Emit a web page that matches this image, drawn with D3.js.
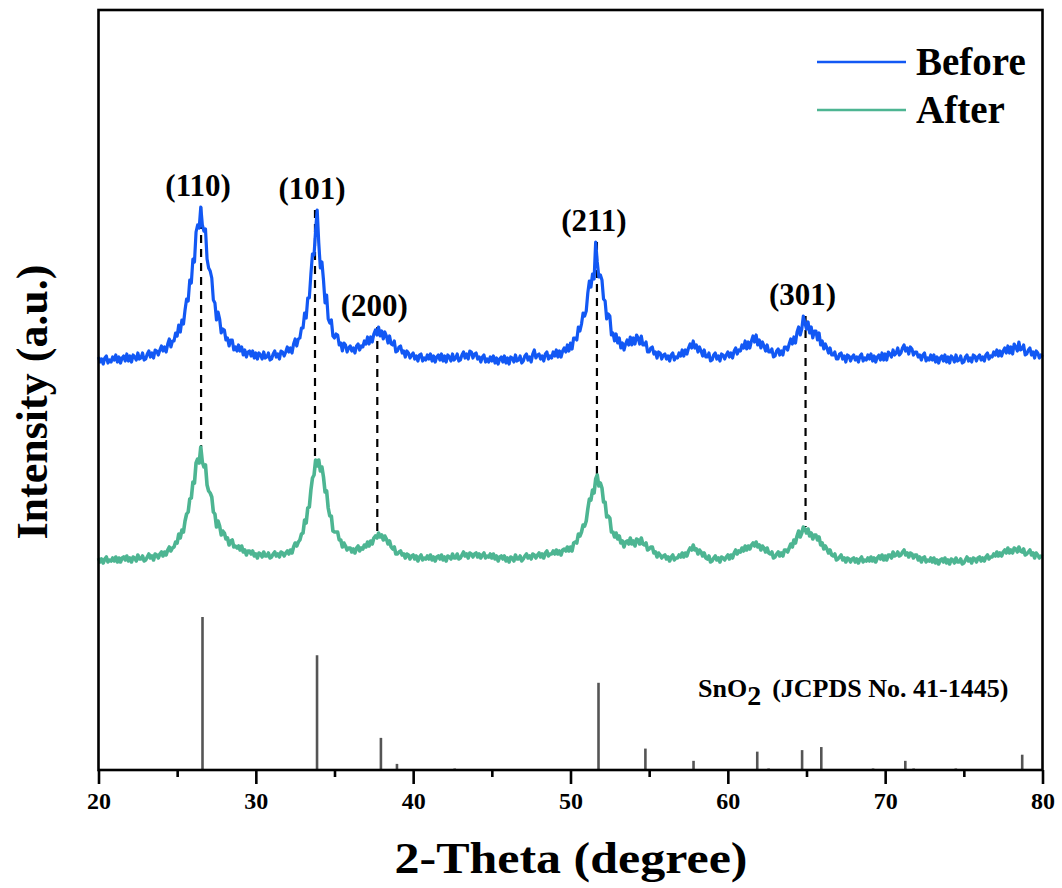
<!DOCTYPE html>
<html>
<head>
<meta charset="utf-8">
<script src="https://cdn.jsdelivr.net/npm/d3@7"></script>
<style>
  body { margin: 0; background: #fff; }
  text { font-family: "Liberation Serif", "Times New Roman", serif; font-weight: bold; fill: #000; }
</style>
</head>
<body>
<svg id="chart" width="1062" height="888"></svg>
<script>
// XRD scan: 2-theta from 20 to 80 degrees, 0.1 degree step (one row per degree)
const thetaStart = 20;
const thetaStep = 0.1;

// Intensity (a.u.) of the sample before cycling
const before = [
  53,48,51,46,52,54,47,50,48,53,
  50,55,48,53,47,52,54,49,56,49,
  54,48,55,53,50,57,51,52,57,50,
  51,56,59,53,57,52,60,59,55,60,
  64,59,63,58,66,71,63,69,69,77,
  74,85,78,90,86,100,111,109,130,127,
  151,148,178,185,182,203,185,179,181,151,
  142,139,132,110,107,90,98,91,77,81,
  80,70,72,64,70,70,60,63,59,65,
  59,63,55,60,53,58,59,54,59,52,
  57,51,57,55,51,58,52,53,57,50,
  51,56,59,53,56,51,59,58,54,58,
  63,58,62,57,66,71,64,71,72,82,
  82,97,92,112,112,136,156,155,180,200,
  167,142,148,130,107,115,91,87,90,74,
  72,76,75,65,67,59,67,65,58,62,
  64,59,62,57,64,66,60,64,63,69,
  66,73,66,73,68,76,80,75,83,74,
  79,71,78,74,67,74,66,65,69,58,
  59,63,64,57,59,53,59,57,52,55,
  57,51,54,49,55,56,49,52,50,55,
  51,56,49,54,48,53,55,50,56,49,
  54,48,55,53,49,56,50,52,56,49,
  50,55,58,52,56,51,59,58,52,56,
  57,51,53,48,53,55,48,51,48,53,
  49,54,47,52,46,51,53,48,54,47,
  52,46,53,52,48,55,49,50,54,47,
  49,54,56,50,53,48,56,60,52,55,
  56,51,54,49,56,58,51,54,52,58,
  54,60,53,59,53,59,62,58,65,59,
  67,61,72,72,70,83,79,86,97,94,
  99,117,129,123,136,131,168,148,133,135,
  130,111,109,91,96,94,75,77,69,76,
  67,72,62,67,60,66,70,65,73,65,
  72,66,75,72,66,74,65,65,68,58,
  58,62,63,56,58,52,58,57,51,55,
  56,51,54,49,55,57,50,53,52,57,
  54,60,54,60,56,62,66,62,69,62,
  65,58,63,59,54,60,53,53,57,49,
  50,55,57,51,54,49,56,55,51,55,
  58,53,57,52,59,62,56,60,59,65,
  62,69,61,68,62,69,74,68,75,65,
  70,62,68,64,59,65,58,58,61,53,
  54,59,61,55,59,55,63,63,60,66,
  71,66,73,67,78,83,75,81,94,87,
  81,88,77,83,72,79,79,70,77,65,
  69,61,66,62,57,62,55,55,58,51,
  51,56,57,51,54,48,55,54,49,53,
  55,50,53,48,54,56,49,52,50,55,
  51,56,49,54,48,53,55,50,57,50,
  56,50,58,56,53,60,55,57,62,55,
  57,62,65,59,62,56,63,61,55,58,
  58,53,55,50,55,57,49,52,50,55,
  50,55,48,53,47,52,54,49,55,48,
  53,47,54,52,48,55,49,50,54,47,
  48,53,55,49,52,48,55,54,49,53,
  55,50,53,49,55,57,51,54,53,58,
  55,60,54,59,54,59,62,57,64,57,
  63,56,66,63,59,68,60,61,65,55,
  56,60,62,55,58,52,59,57,52,55,
  53
];

// Intensity (a.u.) of the sample after cycling
const after = [
  52,48,51,47,51,53,48,50,49,52,
  49,53,48,52,48,52,53,50,54,49,
  52,48,53,52,49,55,51,51,54,49,
  50,53,56,52,54,50,56,55,52,56,
  58,54,58,55,60,63,59,62,63,68,
  67,76,72,80,78,89,96,98,111,112,
  128,127,147,151,147,163,148,143,145,125,
  119,117,113,98,96,83,89,84,75,79,
  77,71,72,65,69,70,63,64,62,64,
  60,64,58,60,55,59,59,56,59,54,
  56,52,57,56,53,58,54,54,57,52,
  53,56,58,54,56,53,58,57,54,57,
  59,56,60,57,63,67,64,68,70,76,
  77,90,87,102,103,120,132,135,150,144,
  150,139,143,133,118,119,102,94,94,79,
  78,78,78,70,70,63,67,64,60,62,
  62,58,61,57,62,64,59,62,61,65,
  63,68,64,69,66,72,74,72,77,73,
  75,70,74,71,66,69,63,61,63,56,
  56,58,59,55,56,52,56,55,51,54,
  55,51,54,49,53,55,50,52,51,54,
  51,55,50,53,49,53,54,51,55,50,
  53,49,54,53,51,56,52,52,56,51,
  52,55,58,54,56,52,57,56,53,56,
  57,53,56,52,55,57,52,54,53,56,
  52,56,51,54,49,53,54,51,54,49,
  52,48,53,52,49,55,51,51,54,49,
  51,54,56,52,54,51,56,55,52,55,
  57,53,56,52,57,59,54,56,56,59,
  56,60,56,59,55,60,61,59,63,59,
  63,59,67,68,67,76,74,78,85,84,
  89,101,111,110,120,117,131,135,124,127,
  122,108,108,93,94,92,78,78,73,77,
  71,74,67,69,63,68,69,66,72,66,
  69,64,71,70,66,72,66,65,67,60,
  61,63,63,57,58,53,57,55,52,54,
  55,51,53,49,53,55,50,52,52,55,
  53,57,53,57,54,59,62,60,65,60,
  61,56,60,58,54,57,52,51,54,48,
  49,52,54,50,52,48,53,52,50,53,
  55,51,55,52,57,60,56,59,58,62,
  59,64,60,64,61,65,67,64,68,63,
  65,60,64,62,58,62,57,56,58,52,
  53,56,58,54,57,54,60,60,58,62,
  66,63,70,67,74,79,73,77,83,81,
  77,81,74,77,71,75,75,70,73,65,
  67,61,64,61,57,60,55,54,56,50,
  51,53,55,50,52,48,52,51,48,51,
  52,48,51,47,51,53,48,50,49,52,
  49,53,49,52,48,52,54,51,55,50,
  54,50,55,55,52,58,54,55,58,54,
  55,58,60,55,57,53,57,56,52,55,
  55,50,53,48,52,53,48,50,49,52,
  48,52,47,50,46,50,51,48,52,47,
  50,46,51,50,47,52,48,48,51,46,
  47,50,53,49,51,47,52,51,48,52,
  53,49,52,49,53,55,51,53,53,56,
  54,58,54,57,54,58,60,57,62,57,
  60,57,62,61,58,63,59,58,61,55,
  56,58,60,55,57,52,57,55,52,54,
  53
];

// SnO2 reference pattern (JCPDS No. 41-1445): 2-theta and relative intensity
const refTheta = [26.61, 33.89, 37.95, 38.97, 42.64, 51.78, 54.76, 57.82, 61.87, 62.59, 64.72, 65.94, 69.23, 71.28, 71.81, 74.49, 78.71];
const refIntensity = [100, 75, 21, 4, 1, 57, 14, 6, 12, 1, 13, 15, 1, 6, 1, 1, 10];

// Indexed reflections
const hklLabels = ["(110)", "(101)", "(200)", "(211)", "(301)"];
const hklTheta = [26.52, 33.76, 37.72, 51.68, 64.94];

const seriesNames = ["Before", "After"];
const xTicks = [20, 30, 40, 50, 60, 70, 80];
const xMinorTicks = [25, 35, 45, 55, 65, 75];

// ---- layout ----
const plot = { left: 98.5, right: 1042.5, top: 10, bottom: 770 };
const colors = { Before: "#1258f4", After: "#4db592" };
const widths = { Before: 3.2, After: 3.6 };
const offsets = { Before: 360, After: 160 };  // vertical stacking of the two patterns

const svg = d3.select("#chart");

const x = d3.scaleLinear().domain([20, 80]).range([plot.left, plot.right]);
const y = d3.scaleLinear().domain([0, 760]).range([plot.bottom, plot.top]);
const yRef = d3.scaleLinear().domain([0, 100]).range([plot.bottom, 617]);

const thetaOf = i => thetaStart + i * thetaStep;
const seriesData = {
  Before: before.map((v, i) => ({ t: thetaOf(i), v })),
  After: after.map((v, i) => ({ t: thetaOf(i), v }))
};

// peak maximum of a series near a given angle
function localMax(arr, t0) {
  return d3.max(arr.filter(d => Math.abs(d.t - t0) <= 0.3), d => d.v);
}

// dashed guide lines linking the same reflection in both patterns
const guides = svg.append("g");
hklTheta.forEach(t => {
  const top = localMax(seriesData.Before, t) + offsets.Before;
  const bot = localMax(seriesData.After, t) + offsets.After;
  guides.append("line")
    .attr("x1", x(t)).attr("x2", x(t))
    .attr("y1", y(top)).attr("y2", y(bot))
    .attr("stroke", "#000").attr("stroke-width", 2.2)
    .attr("stroke-dasharray", "8,6");
});

// reference sticks
svg.append("g").selectAll("line").data(refTheta).join("line")
  .attr("x1", d => x(d)).attr("x2", d => x(d))
  .attr("y1", yRef(0)).attr("y2", (d, i) => yRef(refIntensity[i]))
  .attr("stroke", "#555").attr("stroke-width", 2.6);

// diffraction patterns
const line = d3.line().x(d => x(d.t));
seriesNames.slice().reverse().forEach(name => {
  svg.append("path")
    .datum(seriesData[name])
    .attr("fill", "none")
    .attr("stroke", colors[name])
    .attr("stroke-width", widths[name])
    .attr("stroke-linejoin", "round")
    .attr("d", line.y(d => y(d.v + offsets[name])));
});

// reflection labels
hklLabels.forEach((lab, i) => {
  const top = localMax(seriesData.Before, hklTheta[i]) + offsets.Before;
  svg.append("text")
    .attr("x", x(hklTheta[i]) - 3)
    .attr("y", y(top) - 11)
    .attr("text-anchor", "middle")
    .attr("font-size", 31)
    .text(lab);
});

// reference label
const refLabel = svg.append("text")
  .attr("x", 698).attr("y", 697)
  .attr("font-size", 26);
refLabel.append("tspan").text("SnO");
refLabel.append("tspan").attr("dy", 8).attr("font-size", 28).text("2");
refLabel.append("tspan").attr("dy", -8).attr("dx", 11).text("(JCPDS No. 41-1445)");

// bottom axis with major and minor ticks
const axis = svg.append("g").attr("transform", `translate(0,${plot.bottom})`)
  .call(d3.axisBottom(x).tickValues(xTicks).tickSize(14).tickPadding(8).tickSizeOuter(0).tickFormat(d3.format("d")));
axis.select(".domain").remove();
axis.selectAll(".tick line").attr("stroke-width", 2.6);
axis.selectAll(".tick text")
  .attr("font-family", "Liberation Serif, Times New Roman, serif")
  .attr("font-weight", "bold").attr("font-size", 24).attr("fill", "#000");

const minor = svg.append("g").attr("transform", `translate(0,${plot.bottom})`)
  .call(d3.axisBottom(x).tickValues(xMinorTicks).tickSize(7).tickSizeOuter(0).tickFormat(""));
minor.select(".domain").remove();
minor.selectAll(".tick line").attr("stroke-width", 2.6);

// frame
svg.append("rect")
  .attr("x", plot.left).attr("y", plot.top)
  .attr("width", plot.right - plot.left).attr("height", plot.bottom - plot.top)
  .attr("fill", "none").attr("stroke", "#000").attr("stroke-width", 2.6);

// axis titles
svg.append("text")
  .attr("x", 571).attr("y", 873)
  .attr("text-anchor", "middle").attr("font-size", 44)
  .attr("textLength", 353).attr("lengthAdjust", "spacingAndGlyphs")
  .text("2-Theta (degree)");
svg.append("text")
  .attr("transform", `translate(47,402) rotate(-90)`)
  .attr("text-anchor", "middle").attr("font-size", 44)
  .attr("textLength", 275).attr("lengthAdjust", "spacingAndGlyphs")
  .text("Intensity (a.u.)");

// legend
const legend = svg.append("g");
seriesNames.forEach((name, i) => {
  const ly = 62 + i * 48;
  legend.append("line")
    .attr("x1", 817).attr("x2", 906).attr("y1", ly).attr("y2", ly)
    .attr("stroke", colors[name]).attr("stroke-width", 2.4);
  legend.append("text")
    .attr("x", 916).attr("y", ly + 13)
    .attr("font-size", 39)
    .text(name);
});
</script>
</body>
</html>
